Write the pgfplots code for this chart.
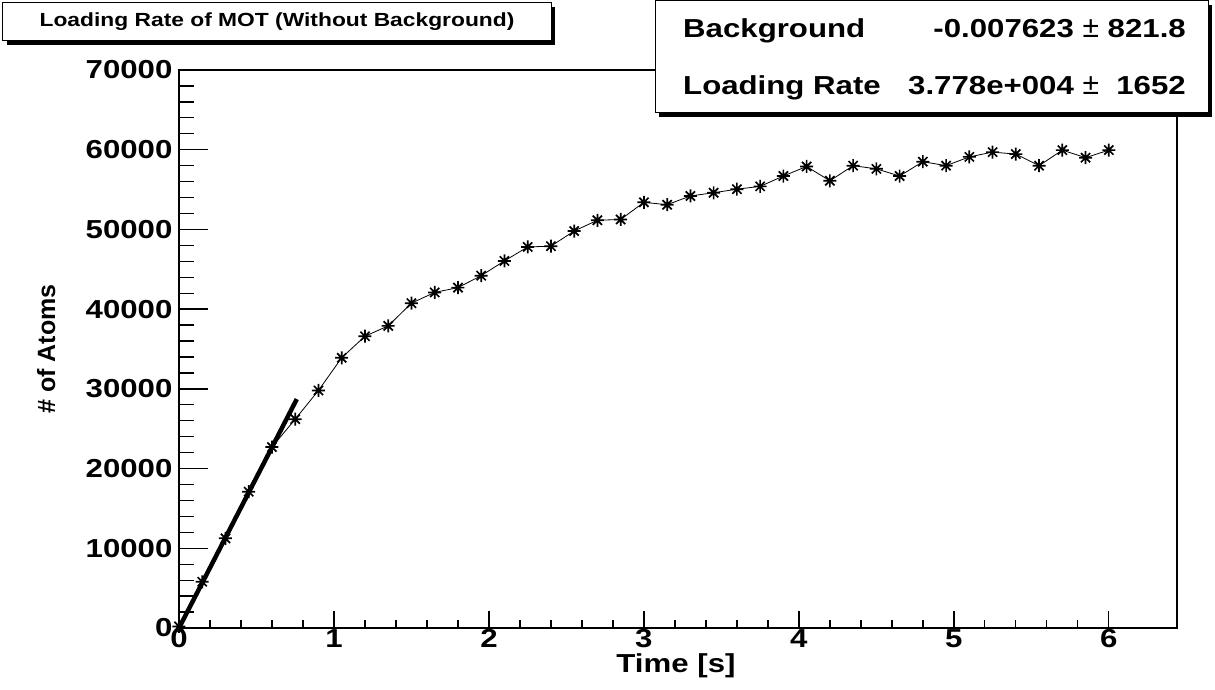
\documentclass[border=0pt]{standalone}
\usepackage{fontspec}
\setmainfont{Liberation Sans}[FakeStretch=1.2]
\newfontfamily\plainsans{Liberation Sans}
\usepackage{pgfplots}
\pgfplotsset{compat=1.18}

\newcommand\fs[1]{\fontsize{#1}{#1}\selectfont}

% ROOT style eight-armed star marker
\pgfdeclareplotmark{rootstar}{%
  \pgfpathmoveto{\pgfqpoint{-\pgfplotmarksize}{0pt}}%
  \pgfpathlineto{\pgfqpoint{\pgfplotmarksize}{0pt}}%
  \pgfpathmoveto{\pgfqpoint{0pt}{-\pgfplotmarksize}}%
  \pgfpathlineto{\pgfqpoint{0pt}{\pgfplotmarksize}}%
  \pgfpathmoveto{\pgfqpoint{-.707\pgfplotmarksize}{-.707\pgfplotmarksize}}%
  \pgfpathlineto{\pgfqpoint{.707\pgfplotmarksize}{.707\pgfplotmarksize}}%
  \pgfpathmoveto{\pgfqpoint{-.707\pgfplotmarksize}{.707\pgfplotmarksize}}%
  \pgfpathlineto{\pgfqpoint{.707\pgfplotmarksize}{-.707\pgfplotmarksize}}%
  \pgfusepathqstroke}

\begin{document}
\begin{tikzpicture}
\path[use as bounding box] (-179pt,-61pt) rectangle (1036pt,628pt);
\begin{axis}[
    name=ax, at={(0,0)}, anchor=south west,
    scale only axis, width=998pt, height=558pt,
    xmin=0, xmax=6.44, ymin=0, ymax=70000,
    xtick={0,1,2,3,4,5,6},
    ytick={0,10000,20000,30000,40000,50000,60000,70000},
    minor x tick num=4, minor y tick num=4,
    tick align=inside, tick pos=left,
    major tick length=29pt, minor tick length=14.5pt,
    xtick style={/pgfplots/major tick length=17pt,/pgfplots/minor tick length=8.5pt},
    axis line style={line width=1.6pt},
    every tick/.style={black, line width=1.3pt},
    ticklabel style={font=\bfseries\fs{26}},
    yticklabel style={xshift=-3pt},
    xticklabel style={yshift=2pt},
    /pgf/number format/assume math mode=true,
    /pgf/number format/1000 sep={},
    scaled y ticks=false,
    xlabel={Time [s]},
    ylabel={\# of Atoms},
    xlabel style={font=\bfseries\fs{26}, at={(axis description cs:0.498,-0.0806)}, anchor=base},
    ylabel style={font=\plainsans\bfseries\fs{25}, at={(axis description cs:-0.1332,0.5)}, anchor=center},
]
% measured number of atoms
\addplot[black, line width=0.8pt, mark=rootstar, mark size=6.5pt,
         mark options={line width=1.7pt}] coordinates {
    (0,200)(0.15,5800)(0.3,11250)(0.45,17100)(0.6,22700)(0.75,26200)
    (0.9,29800)(1.05,33900)(1.2,36600)(1.35,37900)(1.5,40750)(1.65,42100)
    (1.8,42700)(1.95,44200)(2.1,46050)(2.25,47800)(2.4,47900)(2.55,49800)
    (2.7,51150)(2.85,51250)(3.0,53400)(3.15,53100)(3.3,54200)(3.45,54600)
    (3.6,55050)(3.75,55400)(3.9,56700)(4.05,57900)(4.2,56100)(4.35,58000)
    (4.5,57600)(4.65,56700)(4.8,58500)(4.95,58000)(5.1,59100)(5.25,59700)
    (5.4,59450)(5.55,58000)(5.7,59950)(5.85,59000)(6.0,59950)
};
% linear fit over the first points
\addplot[black, line width=4.5pt] coordinates {(0,0)(0.76,28713)};
\end{axis}

% title box
\fill[black] (-172pt,583pt) rectangle (376pt,621pt);
\filldraw[fill=white, draw=black, line width=1pt] (-176pt,587pt) rectangle (372pt,625pt);
\node[font=\bfseries\fs{19}, inner sep=0pt] at (98pt,606pt) {Loading Rate of MOT (Without Background)};

% fit statistics box
\fill[black] (480pt,511pt) rectangle (1033pt,623pt);
\filldraw[fill=white, draw=black, line width=1pt] (476pt,515pt) rectangle (1029pt,627pt);
\node[anchor=base west, font=\bfseries\fs{26}, inner sep=0pt] at (504pt,590pt) {Background};
\node[anchor=base east, font=\bfseries\fs{26}, inner sep=0pt] at (1007pt,590pt) {-0.007623 {\plainsans\mdseries\fs{30}±} 821.8};
\node[anchor=base west, font=\bfseries\fs{26}, inner sep=0pt] at (504pt,533pt) {Loading Rate};
\node[anchor=base east, font=\bfseries\fs{26}, inner sep=0pt] at (1007pt,533pt) {3.778e+004 {\plainsans\mdseries\fs{30}±}\ \ 1652};
\end{tikzpicture}
\end{document}
